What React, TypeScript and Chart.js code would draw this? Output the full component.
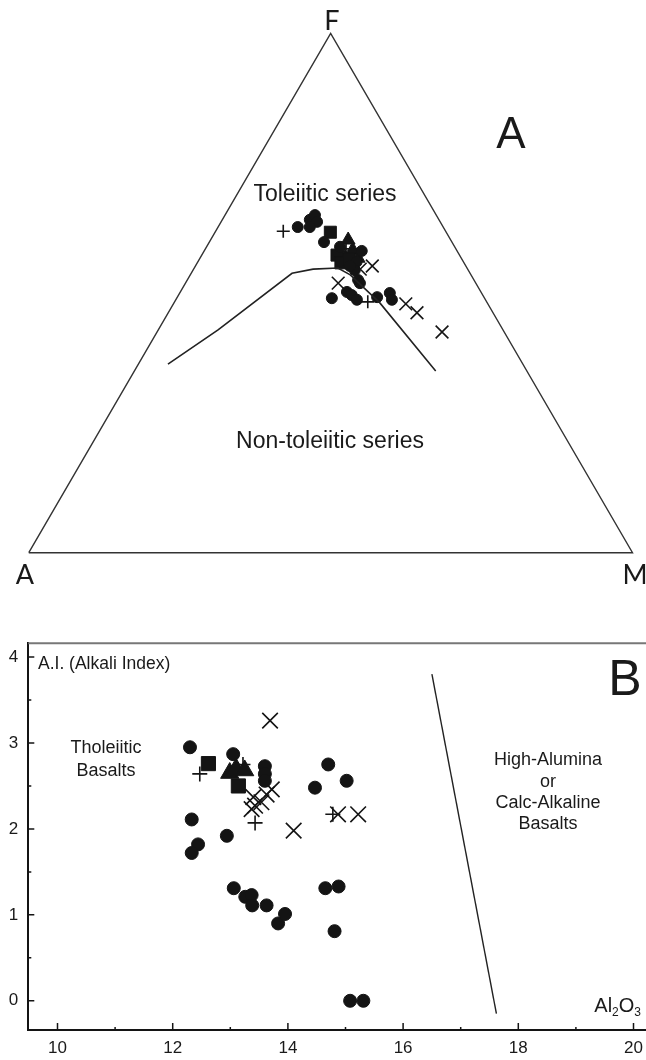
import React, { useEffect, useRef } from "react";
import { Chart, registerables } from "chart.js";
Chart.register(...registerables);

// ---------- Panel A : AFM ternary (values in %, A / F / M) ----------
const triA = [100, 0, 0, 100];
const triF = [0, 0, 100, 0];
const triM = [0, 100, 0, 0];

const curveA = [58.8, 47.2, 29.5, 25.6, 21.4, 20.0, 17.8, 15.1];
const curveF = [36.3, 42.9, 53.8, 54.6, 54.8, 53.5, 48.1, 35.0];
const curveM = [4.9, 9.9, 16.7, 19.8, 23.8, 26.5, 34.1, 49.9];

const circA = [24.1, 21.4, 20.1, 20.4, 22.1, 21.2, 19.0, 15.8, 17.7, 18.8, 19.2, 19.2, 25.3, 22.2, 21.7, 21.3, 17.7, 15.2, 15.5, 19.2];
const circF = [62.7, 64.1, 65.0, 63.7, 62.7, 59.8, 58.9, 58.1, 56.0, 54.4, 52.5, 51.9, 49.0, 50.2, 49.6, 48.7, 49.2, 50.0, 48.7, 55.2];
const circM = [13.2, 14.5, 14.9, 15.9, 15.2, 19.0, 22.1, 26.1, 26.3, 26.8, 28.3, 28.9, 25.7, 27.6, 28.7, 30.0, 33.1, 34.8, 35.8, 25.6];

const sqA = [19.2, 20.3, 20.4, 18.7];
const sqF = [61.7, 57.3, 55.8, 56.5];
const sqM = [19.1, 22.4, 23.8, 24.8];

const trA = [17.0, 17.2, 19.2, 17.1];
const trF = [60.2, 58.3, 56.9, 56.7];
const trM = [22.8, 24.5, 23.9, 26.2];

const plA = [26.9, 18.2, 19.7];
const plF = [61.9, 58.5, 48.3];
const plM = [11.2, 23.3, 32.0];

const xA = [15.5, 22.8, 13.6, 12.6, 10.3, 17.8];
const xF = [55.2, 51.9, 47.9, 46.2, 42.5, 54.6];
const xM = [29.3, 25.3, 38.5, 41.2, 47.2, 27.6];

// ---------- Panel B : Alkali index vs Al2O3 ----------
const bCircX = [12.3, 13.05, 13.6, 13.6, 13.6, 14.47, 14.7, 15.02, 12.33, 12.94, 12.44, 12.33, 13.06, 13.26, 13.37, 13.38, 13.63, 13.83, 13.95, 14.65, 14.88, 14.81, 15.08, 15.31];
const bCircY = [2.95, 2.87, 2.73, 2.64, 2.56, 2.48, 2.75, 2.56, 2.11, 1.92, 1.82, 1.72, 1.31, 1.21, 1.23, 1.11, 1.11, 0.9, 1.01, 1.31, 1.33, 0.81, 0.0, 0.0];

const bSqX = [12.62, 13.14];
const bSqY = [2.76, 2.5];

const bTrX = [12.99, 13.1, 13.25];
const bTrY = [2.65, 2.7, 2.68];

const bPlX = [12.47, 13.22, 13.43, 14.78];
const bPlY = [2.64, 2.75, 2.07, 2.17];

const bXX = [13.69, 14.1, 14.87, 15.22, 13.37, 13.4, 13.43, 13.54, 13.63, 13.72];
const bXY = [3.26, 1.98, 2.17, 2.17, 2.23, 2.37, 2.27, 2.31, 2.4, 2.46];

const divX = [16.5, 17.62];
const divY = [3.8, -0.15];

const xMajor = [10, 12, 14, 16, 18, 20];
const xMinor = [11, 13, 15, 17, 19];
const yMajor = [0, 1, 2, 3, 4];
const yMinor = [0.5, 1.5, 2.5, 3.5];

// ---------- helpers ----------
function tern(a: number, f: number, m: number) {
  const s = a + f + m;
  const F = (f / s) * 100;
  const M = (m / s) * 100;
  return { x: M + F / 2, y: F };
}
const toTern = (A: number[], F: number[], M: number[]) => A.map((a, i) => tern(a, F[i], M[i]));
const toXY = (X: number[], Y: number[]) => X.map((x, i) => ({ x, y: Y[i] }));

const INK = "#141414";
const SANS = '"Liberation Sans", Arial, sans-serif';

function pointSet(data: any[], style: string, r: number, filled: boolean) {
  return {
    data,
    pointStyle: style,
    pointRadius: r,
    pointHoverRadius: r,
    backgroundColor: filled ? INK : "rgba(0,0,0,0)",
    borderColor: INK,
    borderWidth: filled ? 1 : 1.6,
    showLine: false,
    clip: false as any,
  };
}

const textA = {
  id: "textA",
  afterDraw(chart: any) {
    const ctx = chart.ctx;
    ctx.save();
    ctx.fillStyle = "#1a1a1a";
    ctx.textAlign = "center";
    ctx.textBaseline = "alphabetic";
    ctx.font = "27px Lato, sans-serif";
    ctx.fillText("F", 332, 30);
    ctx.fillText("A", 25, 584);
    ctx.fillText("M", 635, 584);
    ctx.font = `44px ${SANS}`;
    ctx.fillText("A", 511, 148);
    ctx.font = `23px ${SANS}`;
    ctx.textBaseline = "middle";
    ctx.fillText("Toleiitic series", 325, 195);
    ctx.fillText("Non-toleiitic series", 330, 442);
    ctx.restore();
  },
};

const decoB = {
  id: "decoB",
  afterDraw(chart: any) {
    const ctx = chart.ctx;
    const { left, right, top, bottom } = chart.chartArea;
    const xs = chart.scales.x;
    const ys = chart.scales.y;
    ctx.save();
    // top frame line
    ctx.strokeStyle = "#777";
    ctx.lineWidth = 2;
    ctx.beginPath();
    ctx.moveTo(left, top);
    ctx.lineTo(right, top);
    ctx.stroke();
    // inward ticks
    ctx.strokeStyle = INK;
    ctx.lineWidth = 1.5;
    ctx.beginPath();
    xMajor.forEach((v) => {
      const p = xs.getPixelForValue(v);
      ctx.moveTo(p, bottom);
      ctx.lineTo(p, bottom - 7);
    });
    xMinor.forEach((v) => {
      const p = xs.getPixelForValue(v);
      ctx.moveTo(p, bottom);
      ctx.lineTo(p, bottom - 3);
    });
    yMajor.forEach((v) => {
      const p = ys.getPixelForValue(v);
      ctx.moveTo(left, p);
      ctx.lineTo(left + 6, p);
    });
    yMinor.forEach((v) => {
      const p = ys.getPixelForValue(v);
      ctx.moveTo(left, p);
      ctx.lineTo(left + 3, p);
    });
    ctx.stroke();

    ctx.fillStyle = "#1a1a1a";
    ctx.textBaseline = "middle";
    ctx.textAlign = "left";
    ctx.font = `17.5px ${SANS}`;
    ctx.fillText("A.I. (Alkali Index)", 38, 64);

    ctx.textAlign = "center";
    ctx.font = `18px ${SANS}`;
    ctx.fillText("Tholeiitic", 106, 148);
    ctx.fillText("Basalts", 106, 171);
    ctx.fillText("High-Alumina", 548, 160);
    ctx.fillText("or", 548, 182);
    ctx.fillText("Calc-Alkaline", 548, 203);
    ctx.fillText("Basalts", 548, 224);

    ctx.textBaseline = "alphabetic";
    ctx.font = `50px ${SANS}`;
    ctx.fillText("B", 625, 95);

    // Al2O3 with subscripts, right aligned at the page edge
    ctx.textAlign = "left";
    const big = `20px ${SANS}`;
    const small = `12px ${SANS}`;
    const parts: [string, string, number][] = [
      ["Al", big, 0],
      ["2", small, 4],
      ["O", big, 0],
      ["3", small, 4],
    ];
    let w = 0;
    parts.forEach(([t, f]) => {
      ctx.font = f;
      w += ctx.measureText(t).width;
    });
    let x = 641 - w;
    const base = 412;
    parts.forEach(([t, f, dy]) => {
      ctx.font = f;
      ctx.fillText(t, x, base + dy);
      x += ctx.measureText(t).width;
    });
    ctx.restore();
  },
};

const B_WIDTH = 700;

export default function App() {
  const refA = useRef<HTMLCanvasElement>(null);
  const refB = useRef<HTMLCanvasElement>(null);

  useEffect(() => {
    const lineSet = (data: any[], w: number, c: string) => ({
      data,
      showLine: true,
      pointRadius: 0,
      pointHoverRadius: 0,
      borderColor: c,
      borderWidth: w,
      fill: false,
      tension: 0,
      clip: false as any,
    });

    const chartA = new Chart(refA.current!, {
      type: "scatter",
      data: {
        datasets: [
          lineSet(toTern(triA, triF, triM), 1.4, "#333"),
          lineSet(toTern(curveA, curveF, curveM), 1.6, "#222"),
          pointSet(toTern(circA, circF, circM), "circle", 5.5, true),
          pointSet(toTern(sqA, sqF, sqM), "rect", 8.5, true),
          pointSet(toTern(trA, trF, trM), "triangle", 8, true),
          pointSet(toTern(plA, plF, plM), "cross", 6.5, false),
          pointSet(toTern(xA, xF, xM), "crossRot", 9, false),
        ] as any,
      },
      options: {
        responsive: false,
        animation: false,
        events: [],
        layout: { padding: { left: 28.8, right: 13.5, top: 33.3, bottom: 47.3 } },
        scales: {
          x: { type: "linear", min: 0, max: 100, display: false },
          y: { type: "linear", min: 0, max: 100, display: false },
        },
        plugins: { legend: { display: false }, tooltip: { enabled: false } },
      },
      plugins: [textA],
    });

    const chartB = new Chart(refB.current!, {
      type: "scatter",
      data: {
        datasets: [
          lineSet(toXY(divX, divY), 1.4, "#222"),
          pointSet(toXY(bCircX, bCircY), "circle", 6.5, true),
          pointSet(toXY(bSqX, bSqY), "rect", 10, true),
          pointSet(toXY(bTrX, bTrY), "triangle", 10.5, true),
          pointSet(toXY(bPlX, bPlY), "cross", 7.5, false),
          pointSet(toXY(bXX, bXY), "crossRot", 11, false),
        ] as any,
      },
      options: {
        responsive: false,
        animation: false,
        events: [],
        layout: { padding: { left: 0, right: 40, top: 43.3, bottom: 0 } },
        scales: {
          x: {
            type: "linear",
            min: 9.493,
            max: 20.46,
            grid: { display: false, drawTicks: false },
            border: { display: true, color: INK, width: 2 },
            afterBuildTicks: (s: any) => {
              s.ticks = xMajor.map((v) => ({ value: v }));
            },
            afterFit: (s: any) => {
              s.height = 30;
            },
            ticks: { padding: 8, color: "#1a1a1a", font: { family: SANS, size: 17 }, maxRotation: 0, autoSkip: false },
          },
          y: {
            type: "linear",
            min: -0.34,
            max: 4.16,
            grid: { display: false, drawTicks: false },
            border: { display: true, color: INK, width: 2 },
            afterBuildTicks: (s: any) => {
              s.ticks = yMajor.map((v) => ({ value: v }));
            },
            afterFit: (s: any) => {
              s.width = 28.3;
            },
            ticks: { padding: 10, color: "#1a1a1a", font: { family: SANS, size: 17 }, autoSkip: false },
          },
        },
        plugins: { legend: { display: false }, tooltip: { enabled: false } },
      },
      plugins: [decoB],
    });

    return () => {
      chartA.destroy();
      chartB.destroy();
    };
  }, []);

  return (
    <div style={{ position: "absolute", left: 0, top: 0, width: 646, height: 1060, overflow: "hidden", background: "#fff" }}>
      <canvas ref={refA} width={646} height={600} style={{ position: "absolute", left: 0, top: 0, width: 646, height: 600 }} />
      <canvas ref={refB} width={B_WIDTH} height={460} style={{ position: "absolute", left: 0, top: 600, width: B_WIDTH, height: 460 }} />
    </div>
  );
}
